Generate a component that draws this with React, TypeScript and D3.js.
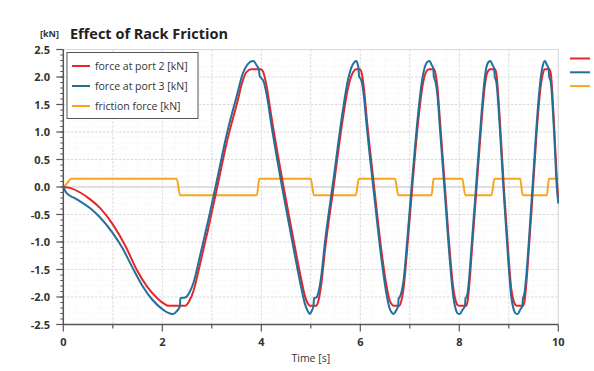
import React from 'react';
import * as d3 from 'd3';

// ---- data (time [s], value [kN]) ----
const forcePort2: [number, number][] = [
  [0, 0], [0.15, -0.02], [0.34, -0.1], [0.55, -0.23], [0.74, -0.38], [1.0, -0.68], [1.27, -1.1], [1.48, -1.5], [1.7, -1.82], [1.92, -2.04], [2.05, -2.13], [2.12, -2.16], [2.46, -2.16],
  [2.54, -2.08], [2.63, -1.89], [2.75, -1.45], [2.93, -0.75], [3.11, 0], [3.3, 0.8], [3.52, 1.56], [3.62, 1.92], [3.7, 2.09], [3.8, 2.14], [3.99, 2.14],
  [4.05, 2.06], [4.11, 1.82], [4.2, 1.3], [4.45, 0], [4.68, -1.1], [4.8, -1.65], [4.88, -1.98], [4.94, -2.12], [4.98, -2.16], [5.11, -2.16],
  [5.15, -2.08], [5.21, -1.78], [5.285, -1.16], [5.46, 0], [5.64, 1.2], [5.74, 1.75], [5.82, 2.02], [5.88, 2.12], [5.92, 2.14], [5.99, 2.14],
  [6.03, 2.06], [6.07, 1.82], [6.13, 1.25], [6.28, 0], [6.43, -1.18], [6.52, -1.75], [6.59, -2.05], [6.64, -2.14], [6.67, -2.16], [6.79, -2.16],
  [6.83, -2.07], [6.88, -1.8], [6.94, -1.2], [7.05, 0], [7.17, 1.2], [7.25, 1.8], [7.31, 2.05], [7.36, 2.13], [7.4, 2.14], [7.49, 2.14],
  [7.52, 2.06], [7.56, 1.8], [7.61, 1.2], [7.71, 0], [7.81, -1.2], [7.88, -1.85], [7.93, -2.08], [7.97, -2.15], [8.0, -2.16], [8.14, -2.16],
  [8.17, -2.06], [8.2, -1.8], [8.25, -1.2], [8.35, 0], [8.45, 1.2], [8.51, 1.8], [8.56, 2.07], [8.6, 2.13], [8.62, 2.14], [8.72, 2.14],
  [8.75, 2.05], [8.78, 1.75], [8.82, 1.2], [8.9, 0], [8.99, -1.2], [9.05, -1.85], [9.1, -2.08], [9.14, -2.15], [9.17, -2.16], [9.29, -2.16],
  [9.32, -2.06], [9.35, -1.8], [9.4, -1.2], [9.49, 0], [9.58, 1.2], [9.64, 1.8], [9.69, 2.07], [9.73, 2.14], [9.82, 2.14],
  [9.85, 2.05], [9.88, 1.7], [9.92, 1.05], [9.97, 0.15], [10, -0.2],
];

const forcePort3: [number, number][] = [
  [0, 0], [0.05, -0.09], [0.12, -0.15], [0.2, -0.19], [0.34, -0.26], [0.55, -0.39], [0.74, -0.55], [1.0, -0.84], [1.2, -1.12], [1.4, -1.47], [1.6, -1.8], [1.8, -2.05], [2.0, -2.22], [2.12, -2.29], [2.22, -2.31], [2.29, -2.26], [2.355, -2.17], [2.365, -2.02], [2.46, -2.01],
  [2.54, -1.93], [2.63, -1.74], [2.75, -1.3], [2.93, -0.6], [3.11, 0.15], [3.3, 0.95], [3.52, 1.71], [3.62, 2.05], [3.7, 2.2], [3.77, 2.27], [3.84, 2.29], [3.9, 2.22], [3.955, 2.12], [3.965, 2.02], [3.99, 1.99],
  [4.05, 1.91], [4.11, 1.67], [4.2, 1.15], [4.45, -0.15], [4.68, -1.25], [4.8, -1.8], [4.88, -2.12], [4.94, -2.26], [4.98, -2.31], [5.02, -2.25], [5.055, -2.16], [5.065, -2.02], [5.11, -2.01],
  [5.15, -1.93], [5.21, -1.63], [5.285, -1.01], [5.46, 0.15], [5.64, 1.35], [5.74, 1.9], [5.82, 2.17], [5.88, 2.27], [5.92, 2.29], [5.95, 2.22], [5.965, 2.15], [5.975, 2.01], [5.99, 1.99],
  [6.03, 1.91], [6.07, 1.67], [6.13, 1.1], [6.28, -0.15], [6.43, -1.33], [6.52, -1.9], [6.59, -2.2], [6.64, -2.29], [6.67, -2.31], [6.72, -2.25], [6.765, -2.16], [6.775, -2.02], [6.79, -2.01],
  [6.83, -1.92], [6.88, -1.65], [6.94, -1.05], [7.05, 0.15], [7.17, 1.35], [7.25, 1.95], [7.31, 2.2], [7.36, 2.28], [7.4, 2.29], [7.44, 2.22], [7.475, 2.15], [7.485, 2.01], [7.49, 1.99],
  [7.52, 1.91], [7.56, 1.65], [7.61, 1.05], [7.71, -0.15], [7.81, -1.35], [7.88, -2.0], [7.93, -2.23], [7.97, -2.3], [8.01, -2.31], [8.06, -2.24], [8.115, -2.16], [8.125, -2.02], [8.14, -2.01],
  [8.17, -1.91], [8.2, -1.65], [8.25, -1.05], [8.35, 0.15], [8.45, 1.35], [8.51, 1.95], [8.56, 2.22], [8.6, 2.28], [8.63, 2.29], [8.67, 2.22], [8.705, 2.15], [8.715, 2.01], [8.72, 1.99],
  [8.75, 1.9], [8.78, 1.6], [8.82, 1.05], [8.9, -0.15], [8.99, -1.35], [9.05, -2.0], [9.1, -2.23], [9.14, -2.3], [9.18, -2.31], [9.23, -2.23], [9.275, -2.16], [9.285, -2.02], [9.29, -2.01],
  [9.32, -1.91], [9.35, -1.65], [9.4, -1.05], [9.49, 0.15], [9.58, 1.35], [9.64, 1.95], [9.69, 2.22], [9.73, 2.29], [9.77, 2.22], [9.805, 2.15], [9.815, 2.01], [9.82, 1.99],
  [9.85, 1.9], [9.88, 1.55], [9.92, 0.9], [9.97, 0.0], [10, -0.3],
];

const frictionForce: [number, number][] = [
  [0, 0], [0.03, 0.02], [0.17, 0.15], [2.29, 0.15], [2.36, -0.15], [3.91, -0.15], [3.96, 0.15],
  [5.0, 0.15], [5.06, -0.15], [5.91, -0.15], [5.97, 0.15], [6.7, 0.15], [6.77, -0.15],
  [7.44, -0.15], [7.48, 0.15], [8.06, 0.15], [8.12, -0.15], [8.65, -0.15], [8.71, 0.15],
  [9.23, 0.15], [9.28, -0.15], [9.77, -0.15], [9.81, 0.15], [10, 0.15],
];

const xTickValues = [0, 2, 4, 6, 8, 10];
const xMinorTickValues = [1, 3, 5, 7, 9];
const yTickValues = [-2.5, -2.0, -1.5, -1.0, -0.5, 0.0, 0.5, 1.0, 1.5, 2.0, 2.5];
const seriesNames = ['force at port 2 [kN]', 'force at port 3 [kN]', 'friction force [kN]'];
const seriesColors = ['#e5262b', '#21709a', '#f8a51d'];
const chartTitle = 'Effect of Rack Friction';
const yUnit = '[kN]';
const xLabel = 'Time [s]';

export default function App() {
  const W = 594, H = 371;
  const L = 63.3, R = 558.3, T = 49.5, B = 324.5;
  const x = d3.scaleLinear().domain([0, 10]).range([L, R]);
  const y = d3.scaleLinear().domain([-2.5, 2.5]).range([B, T]);
  const line = d3.line<[number, number]>().x(d => x(d[0])).y(d => y(d[1])).curve(d3.curveMonotoneX);
  const font = "'Open Sans', 'DejaVu Sans', sans-serif";

  const xMinorGrid = d3.range(0, 10.001, 0.25);
  const xMajorGrid = d3.range(1, 10, 1);
  const yMinorGrid = d3.range(-2.5, 2.501, 0.1);
  const yMajorGrid = d3.range(-2.0, 2.01, 0.5).filter(v => Math.abs(v) > 1e-6);
  const yMinorTicks = d3.range(-2.5, 2.501, 0.1);
  const series = [forcePort2, forcePort3, frictionForce];
  const drawOrder = [2, 0, 1];

  return (
    <svg width={W} height={H} style={{ position: 'absolute', left: 0, top: 0, background: '#fff' }} fontFamily={font}>
      <defs>
        <clipPath id="plotclip"><rect x={L} y={T - 2} width={R - L + 1} height={B - T + 4} /></clipPath>
      </defs>
      <rect x={0} y={0} width={W} height={H} fill="#fff" />
      {/* minor grid */}
      {xMinorGrid.map((v, i) => (
        <line key={'xm' + i} x1={x(v)} x2={x(v)} y1={T} y2={B} stroke="#efefef" strokeWidth={0.8} strokeDasharray="1,2" />
      ))}
      {yMinorGrid.map((v, i) => (
        <line key={'ym' + i} x1={L} x2={R} y1={y(v)} y2={y(v)} stroke="#efefef" strokeWidth={0.8} strokeDasharray="1,2" />
      ))}
      {/* major grid */}
      {xMajorGrid.map((v, i) => (
        <line key={'xM' + i} x1={x(v)} x2={x(v)} y1={T} y2={B} stroke="#d6d6d6" strokeWidth={1} strokeDasharray="2,2" />
      ))}
      {yMajorGrid.map((v, i) => (
        <line key={'yM' + i} x1={L} x2={R} y1={y(v)} y2={y(v)} stroke="#d6d6d6" strokeWidth={1} strokeDasharray="2,2" />
      ))}
      <line x1={L} x2={R} y1={y(0)} y2={y(0)} stroke="#c4c4c4" strokeWidth={1.2} />
      {/* plot border */}
      <line x1={L} x2={R} y1={T} y2={T} stroke="#d8d8d8" strokeWidth={1.2} />
      <line x1={R} x2={R} y1={T} y2={B} stroke="#d8d8d8" strokeWidth={1.2} />

      {/* series */}
      <g clipPath="url(#plotclip)">
        {drawOrder.map(k => (
          <path key={k} d={line(series[k]) || ''} fill="none" stroke={seriesColors[k]} strokeWidth={2} strokeLinejoin="round" />
        ))}
      </g>

      {/* axes */}
      <line x1={L} x2={L} y1={T} y2={B} stroke="#555" strokeWidth={1.5} />
      <line x1={L} x2={R} y1={B} y2={B} stroke="#555" strokeWidth={1.5} />
      {yMinorTicks.map((v, i) => (
        <line key={'yt' + i} x1={L - 3} x2={L} y1={y(v)} y2={y(v)} stroke="#555" strokeWidth={1} />
      ))}
      {yTickValues.map((v, i) => (
        <g key={'yl' + i}>
          <line x1={L - 7} x2={L} y1={y(v)} y2={y(v)} stroke="#555" strokeWidth={1.2} />
          <text x={50} y={y(v) + 4} textAnchor="end" fontSize={11} fontWeight="bold" fill="#333">{v.toFixed(1)}</text>
        </g>
      ))}
      {xMinorTickValues.map((v, i) => (
        <line key={'xt' + i} x1={x(v)} x2={x(v)} y1={B} y2={B + 4} stroke="#555" strokeWidth={1.2} />
      ))}
      {xTickValues.map((v, i) => (
        <g key={'xl' + i}>
          <line x1={x(v)} x2={x(v)} y1={B} y2={B + 7} stroke="#555" strokeWidth={1.2} />
          <text x={x(v)} y={346} textAnchor="middle" fontSize={11} fontWeight="bold" fill="#333">{v}</text>
        </g>
      ))}
      <text x={(L + R) / 2} y={362} textAnchor="middle" fontSize={10.5} fill="#333">{xLabel}</text>

      {/* title */}
      <text x={40} y={37} fontSize={9} fontWeight="bold" fill="#333">{yUnit}</text>
      <text x={70} y={38.5} fontSize={14.5} fontWeight="bold" fill="#222">{chartTitle}</text>

      {/* legend */}
      <rect x={67} y={52.5} width={131} height={66} fill="#fff" stroke="#555" strokeWidth={1} />
      {seriesNames.map((name, i) => (
        <g key={'lg' + i}>
          <line x1={72} x2={90} y1={66 + i * 20} y2={66 + i * 20} stroke={seriesColors[i]} strokeWidth={2} />
          <text x={95} y={70 + i * 20} fontSize={10.5} fill="#333">{name}</text>
        </g>
      ))}
      {/* truncated right legend */}
      {seriesColors.map((c, i) => (
        <line key={'rl' + i} x1={570} x2={590} y1={58.5 + i * 13.8} y2={58.5 + i * 13.8} stroke={c} strokeWidth={2} />
      ))}
    </svg>
  );
}
